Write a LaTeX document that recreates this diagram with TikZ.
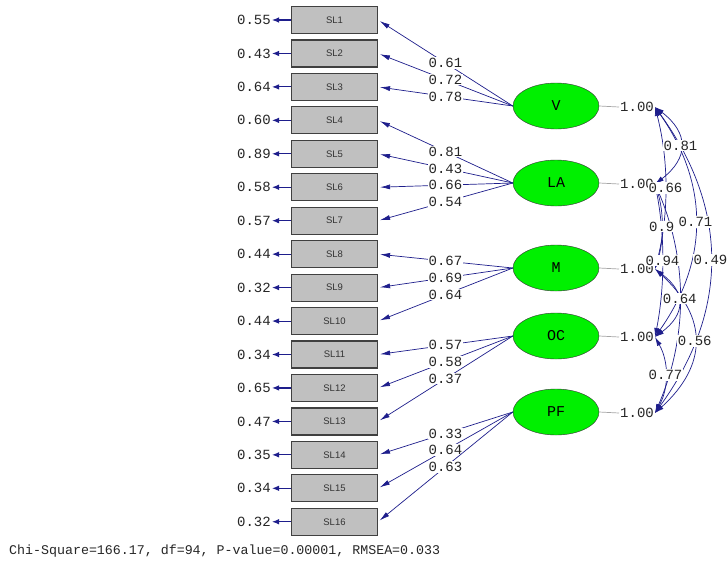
\documentclass[tikz,border=0pt]{standalone}
\usepackage{fontspec}
\setmainfont{Liberation Sans}
\setmonofont{Liberation Mono}
\usetikzlibrary{shapes.geometric}
\usetikzlibrary{arrows.meta}
\definecolor{pathblue}{RGB}{30,30,140}
\definecolor{latgreen}{RGB}{0,240,0}
\definecolor{boxgray}{RGB}{192,192,192}
\tikzset{%
    observed/.style={%
        draw=black!75, line width=1.2pt, fill=boxgray,%
        minimum width=86pt, minimum height=27pt, inner sep=0pt,%
        font=\fontsize{9.5}{10}\selectfont, text=black!80%
    },%
    latent/.style={%
        ellipse, draw=black!80, fill=latgreen,%
        minimum width=86pt, minimum height=46pt, inner sep=0pt,%
        font=\ttfamily\fontsize{15}{15}\selectfont%
    },%
    num/.style={%
        font=\ttfamily\fontsize{14}{14}\selectfont, text=black!85, inner sep=1pt%
    },%
    coef/.style={num, fill=white},%
    load/.style={%
        draw=pathblue, line width=0.7pt, shorten >=2pt,%
        -{Latex[length=10pt,width=5pt]}%
    },%
    errarrow/.style={%
        draw=pathblue, line width=1.1pt, -{Latex[length=7pt,width=5.5pt]}%
    },%
    varline/.style={draw=black!35, line width=0.7pt},%
    corr/.style={%
        draw=pathblue, line width=0.7pt,%
        {Latex[length=9pt,width=5pt]}-{Latex[length=9pt,width=5pt]}%
    }%
}
\begin{document}
\begin{tikzpicture}[x=1pt, y=-1pt]
    \fill[white] (0,0) rectangle (728,566);
    \useasboundingbox (0,0) rectangle (728,566);
    % indicators with their error variances
    \foreach \i/\err in {1/0.55, 2/0.43, 3/0.64, 4/0.60, 5/0.89, 6/0.58,
        7/0.57, 8/0.44, 9/0.32, 10/0.44, 11/0.34, 12/0.65, 13/0.47,
        14/0.35, 15/0.34, 16/0.32} {
        \node[observed] (sl\i) at (334.5, {20+(\i-1)*33.45}) {SL\i};
        \node[num, anchor=east] (e\i) at (272, {20+(\i-1)*33.45}) {\err};
        \draw[errarrow] (sl\i.west) -- (e\i.east);
    }
    % latent factors
    \node[latent] (v) at (556,106) {V};
    \node[latent] (la) at (556,183) {LA};
    \node[latent] (m) at (556,268) {M};
    \node[latent] (oc) at (556,336) {OC};
    \node[latent] (pf) at (556,412) {PF};
    \node[num] (u1) at (637,107) {1.00};
    \node[num] (u2) at (637,184) {1.00};
    \node[num] (u3) at (637,269) {1.00};
    \node[num] (u4) at (637,337) {1.00};
    \node[num] (u5) at (637,413) {1.00};
    \draw[varline] (v.east) -- (u1.west);
    \draw[varline] (la.east) -- (u2.west);
    \draw[varline] (m.east) -- (u3.west);
    \draw[varline] (oc.east) -- (u4.west);
    \draw[varline] (pf.east) -- (u5.west);
    % loadings
    \draw[load] (v.west) -- node[coef] {0.61} (sl1.east);
    \draw[load] (v.west) -- node[coef] {0.72} (sl2.east);
    \draw[load] (v.west) -- node[coef] {0.78} (sl3.east);
    \draw[load] (la.west) -- node[coef] {0.81} (sl4.east);
    \draw[load] (la.west) -- node[coef] {0.43} (sl5.east);
    \draw[load] (la.west) -- node[coef] {0.66} (sl6.east);
    \draw[load] (la.west) -- node[coef] {0.54} (sl7.east);
    \draw[load] (m.west) -- node[coef] {0.67} (sl8.east);
    \draw[load] (m.west) -- node[coef] {0.69} (sl9.east);
    \draw[load] (m.west) -- node[coef] {0.64} (sl10.east);
    \draw[load] (oc.west) -- node[coef] {0.57} (sl11.east);
    \draw[load] (oc.west) -- node[coef] {0.58} (sl12.east);
    \draw[load] (oc.west) -- node[coef] {0.37} (sl13.east);
    \draw[load] (pf.west) -- node[coef] {0.33} (sl14.east);
    \draw[load] (pf.west) -- node[coef] {0.64} (sl15.east);
    \draw[load] (pf.west) -- node[coef] {0.63} (sl16.east);
    % factor correlations
    \draw[corr] (u1.east) .. controls (689,133) and (689,158) .. (u2.east) coordinate[pos=0.5] (c12);
    \draw[corr] (u1.east) .. controls (669,161) and (669,215) .. (u3.east) coordinate[pos=0.5] (c13);
    \draw[corr] (u1.east) .. controls (709,184) and (709,260) .. (u4.east) coordinate[pos=0.5] (c14);
    \draw[corr] (u1.east) .. controls (729,209) and (729,311) .. (u5.east) coordinate[pos=0.5] (c15);
    \draw[corr] (u2.east) .. controls (664,212) and (664,241) .. (u3.east) coordinate[pos=0.5] (c23);
    \draw[corr] (u2.east) .. controls (665,235) and (665,286) .. (u4.east) coordinate[pos=0.5] (c24);
    \draw[corr] (u2.east) .. controls (688,260) and (688,337) .. (u5.east) coordinate[pos=0.5] (c25);
    \draw[corr] (u3.east) .. controls (686,292) and (686,314) .. (u4.east);
    \draw[corr] (u3.east) .. controls (708,317) and (708,365) .. (u5.east) coordinate[pos=0.5] (c35);
    \draw[corr] (u4.east) .. controls (669,362) and (669,388) .. (u5.east) coordinate[pos=0.5] (c45);
    \node[coef] at (c12) {0.81};
    \node[coef] at (c13) {0.66};
    \node[coef] at (c23) {0.9};
    \node[coef] at (c14) {0.71};
    \node[coef] at (c15) {0.49};
    \node[coef] at (c24) {0.94};
    \node[coef] at (c25) {0.64};
    \node[coef] at (c35) {0.56};
    \node[coef] at (c45) {0.77};
    % fit statistics
    \node[num, anchor=west, inner sep=0pt, font=\ttfamily\fontsize{13.3}{14}\selectfont]
        (fit) at (9,551) {Chi-Square=166.17, df=94, P-value=0.00001, RMSEA=0.033};
\end{tikzpicture}
\end{document}
